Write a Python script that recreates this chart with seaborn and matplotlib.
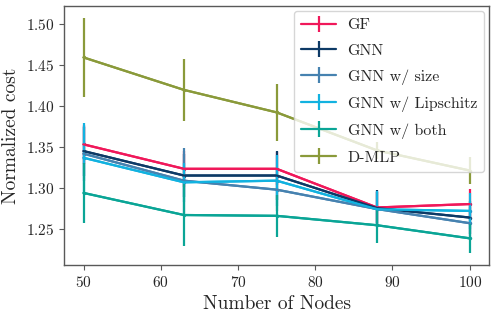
import pandas as pd
import seaborn as sns
import matplotlib.pyplot as plt

# data
nodes = [50, 63, 75, 88, 100]
methods = ["GF", "GNN", "GNN w/ size", "GNN w/ Lipschitz", "GNN w/ both", "D-MLP"]
gf_cost = [1.3534, 1.3235, 1.3235, 1.2762, 1.2804]
gnn_cost = [1.3452, 1.3153, 1.3153, 1.2755, 1.2639]
size_cost = [1.3420, 1.3090, 1.2980, 1.2743, 1.2570]
lip_cost = [1.3370, 1.3070, 1.3090, 1.2740, 1.2720]
both_cost = [1.2940, 1.2670, 1.2660, 1.2545, 1.2385]
dmlp_cost = [1.4597, 1.4200, 1.3925, 1.3460, 1.3214]
gf_err = [0.024, 0.022, 0.020, 0.019, 0.018]
gnn_err = [0.030, 0.026, 0.030, 0.0225, 0.020]
size_err = [0.034, 0.040, 0.026, 0.021, 0.020]
lip_err = [0.042, 0.024, 0.031, 0.022, 0.022]
both_err = [0.037, 0.038, 0.026, 0.0215, 0.018]
dmlp_err = [0.0485, 0.038, 0.0345, 0.010, 0.017]
colors = ["#f0185a", "#0d3a66", "#4682b0", "#12b2e0", "#0aa596", "#8a9a3a"]


def build_frame():
    """Stack the series into a long DataFrame."""
    costs = [gf_cost, gnn_cost, size_cost, lip_cost, both_cost, dmlp_cost]
    errs = [gf_err, gnn_err, size_err, lip_err, both_err, dmlp_err]
    rows = []
    for name, cost, err in zip(methods, costs, errs):
        for n, c, e in zip(nodes, cost, err):
            rows.append({"nodes": n, "cost": c, "err": e, "method": name})
    return pd.DataFrame(rows)


def main():
    sns.set_theme(style="ticks")
    plt.rcParams["font.family"] = "serif"
    plt.rcParams["font.serif"] = ["cmr10", "DejaVu Serif"]
    plt.rcParams["mathtext.fontset"] = "cm"
    plt.rcParams["axes.formatter.use_mathtext"] = True
    plt.rcParams["axes.edgecolor"] = "0.35"
    plt.rcParams["axes.unicode_minus"] = False

    df = build_frame()
    fig, ax = plt.subplots(figsize=(4.98, 3.16), dpi=100)

    sns.lineplot(data=df, x="nodes", y="cost", hue="method", hue_order=methods,
                 palette=colors, linewidth=1.6, marker="o", markersize=2.5,
                 markeredgewidth=0, legend=False, ax=ax)
    for name, color in zip(methods, colors):
        sub = df[df["method"] == name]
        ax.errorbar(sub["nodes"], sub["cost"], yerr=sub["err"], color=color,
                    linewidth=1.6, elinewidth=1.6, capsize=0, label=name)

    ax.set_xlabel("Number of Nodes", fontsize=14)
    ax.set_ylabel("Normalized cost", fontsize=14)
    ax.tick_params(labelsize=11, width=0.8, length=3.5, color="0.35")
    ax.set_yticks([1.25, 1.30, 1.35, 1.40, 1.45, 1.50])
    ax.legend(loc="upper right", fontsize=11.5, handlelength=2.2,
              labelspacing=0.72, borderpad=0.45, handletextpad=0.7,
              borderaxespad=0.3)
    for spine in ax.spines.values():
        spine.set_linewidth(1.0)

    fig.subplots_adjust(left=0.129, right=0.982, top=0.981, bottom=0.162)
    fig.savefig("out.png", dpi=100)


if __name__ == "__main__":
    main()
